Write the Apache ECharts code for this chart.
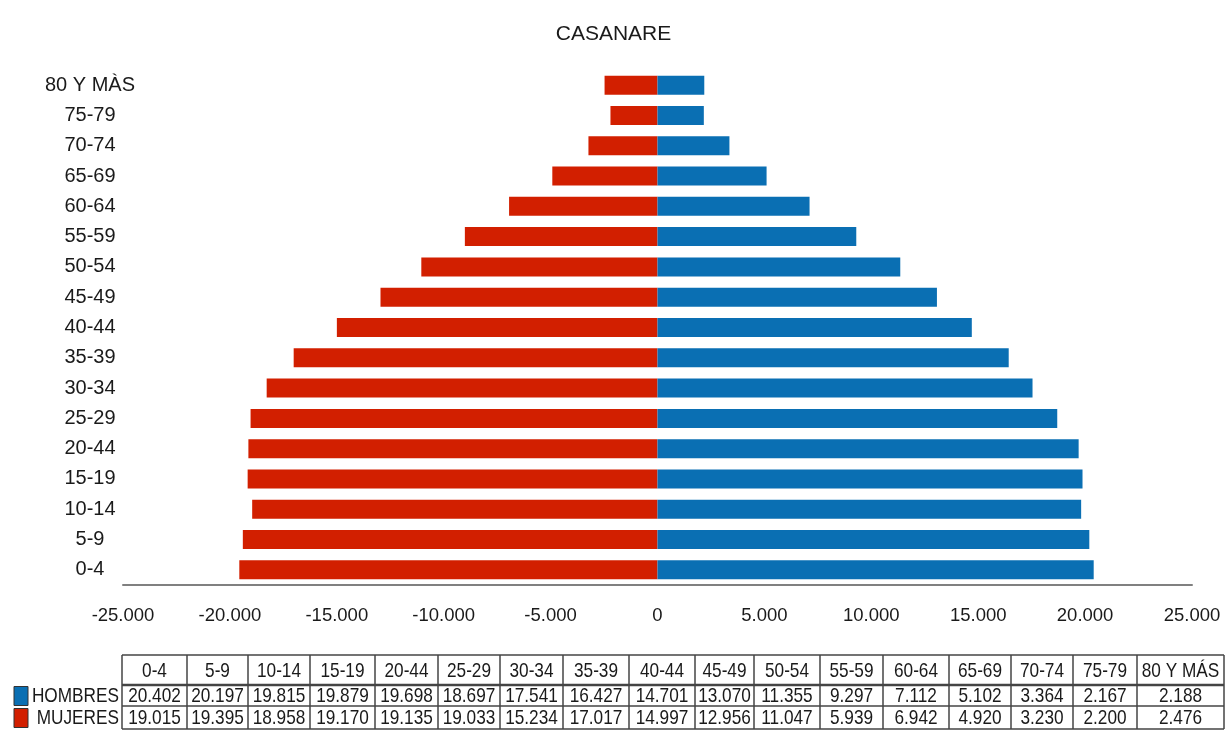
<!DOCTYPE html>
<html>
<head>
<meta charset="utf-8">
<script src="https://cdn.jsdelivr.net/npm/echarts@6/dist/echarts.min.js"></script>
<style>
html,body{margin:0;padding:0;background:#fff;}
#c{width:1227px;height:734px;}
</style>
</head>
<body>
<div id="c"></div>
<script>
// ---- data ----
var title = 'CASANARE';
var ageGroups = ['0-4','5-9','10-14','15-19','20-44','25-29','30-34','35-39','40-44','45-49','50-54','55-59','60-64','65-69','70-74','75-79','80 Y MÀS'];
var hombresBars = [20402, 20197, 19815, 19879, 19698, 18697, 17541, 16427, 14701, 13070, 11355, 9297, 7112, 5102, 3364, 2167, 2188];
var mujeresBars = [19560, 19395, 18958, 19170, 19135, 19033, 18280, 17017, 14997, 12956, 11047, 9010, 6942, 4920, 3230, 2200, 2476];
var xTicks = [-25000, -20000, -15000, -10000, -5000, 0, 5000, 10000, 15000, 20000, 25000];
var tableHeaders = ['0-4','5-9','10-14','15-19','20-44','25-29','30-34','35-39','40-44','45-49','50-54','55-59','60-64','65-69','70-74','75-79','80 Y MÁS'];
var tableHombres = ['20.402','20.197','19.815','19.879','19.698','18.697','17.541','16.427','14.701','13.070','11.355','9.297','7.112','5.102','3.364','2.167','2.188'];
var tableMujeres = ['19.015','19.395','18.958','19.170','19.135','19.033','15.234','17.017','14.997','12.956','11.047','5.939','6.942','4.920','3.230','2.200','2.476'];
var seriesNames = ['HOMBRES','MUJERES'];

// ---- style / layout ----
var FONT = "'Liberation Sans',Arial,sans-serif";
var BLUE = '#0A6FB3';
var RED = '#D21F00';
var TXT = '#1a1a1a';
var colEdges = [122, 187, 248, 310, 375, 438, 500, 563, 629, 695, 754, 820, 883, 949, 1011, 1073, 1137, 1224];
var rowEdges = [655, 685, 706, 729];
var NARROW = 0.82;

function fmt(v){
  var s = Math.abs(v).toString().replace(/\B(?=(\d{3})+(?!\d))/g, '.');
  return (v < 0 ? '-' : '') + s;
}

var chart = echarts.init(document.getElementById('c'), null, {renderer:'canvas'});

// table graphics
var g = [];
for (var r = 0; r < rowEdges.length; r++) {
  g.push({type:'line', shape:{x1:colEdges[0], y1:rowEdges[r], x2:colEdges[colEdges.length-1], y2:rowEdges[r]},
    style:{stroke:'#444', lineWidth: r === 1 ? 2.5 : 1.5}, silent:true});
}
for (var c = 0; c < colEdges.length; c++) {
  g.push({type:'line', shape:{x1:colEdges[c], y1:rowEdges[0], x2:colEdges[c], y2:rowEdges[rowEdges.length-1]},
    style:{stroke:'#444', lineWidth:1.5}, silent:true});
}
var rows = [tableHeaders, tableHombres, tableMujeres];
for (var r = 0; r < rows.length; r++) {
  for (var c = 0; c < rows[r].length; c++) {
    g.push({type:'text', x:(colEdges[c]+colEdges[c+1])/2, y:(rowEdges[r]+rowEdges[r+1])/2 + 1, scaleX:NARROW,
      style:{text:rows[r][c], fill:TXT, font:'21px ' + FONT, align:'center', verticalAlign:'middle'}, silent:true});
  }
}
var keyColors = [BLUE, RED];
for (var k = 0; k < 2; k++) {
  var yc = (rowEdges[k+1]+rowEdges[k+2])/2;
  g.push({type:'rect', shape:{x:14, y:yc-9, width:14, height:19}, style:{fill:keyColors[k], stroke:'#333', lineWidth:1}, silent:true});
  g.push({type:'text', x:119, y:yc+1, scaleX:NARROW, style:{text:seriesNames[k], fill:TXT, font:'21px ' + FONT, align:'right', verticalAlign:'middle'}, silent:true});
}

chart.setOption({
  animation:false,
  backgroundColor:'#fff',
  title:{text:title, left:'center', top:19, textStyle:{fontFamily:FONT, fontSize:21, fontWeight:'normal', color:TXT}},
  grid:{left:123, right:35, top:70, height:515},
  xAxis:{type:'value', min:-25000, max:25000, interval:5000,
    axisLine:{show:true, lineStyle:{color:'#808080', width:2}},
    axisTick:{show:false}, splitLine:{show:false},
    axisLabel:{margin:21, fontFamily:FONT, fontSize:18.5, color:TXT, formatter:function(v){return fmt(v);}}},
  yAxis:{type:'category', data:ageGroups,
    axisLine:{show:false}, axisTick:{show:false}, splitLine:{show:false},
    axisLabel:{interval:0, margin:33, align:'center', fontFamily:FONT, fontSize:20, color:TXT}},
  series:[
    {name:seriesNames[1], type:'bar', stack:'p', barWidth:19, data:mujeresBars.map(function(v){return -v;}), itemStyle:{color:RED}},
    {name:seriesNames[0], type:'bar', stack:'p', barWidth:19, data:hombresBars, itemStyle:{color:BLUE}}
  ],
  graphic:g
});
</script>
</body>
</html>
